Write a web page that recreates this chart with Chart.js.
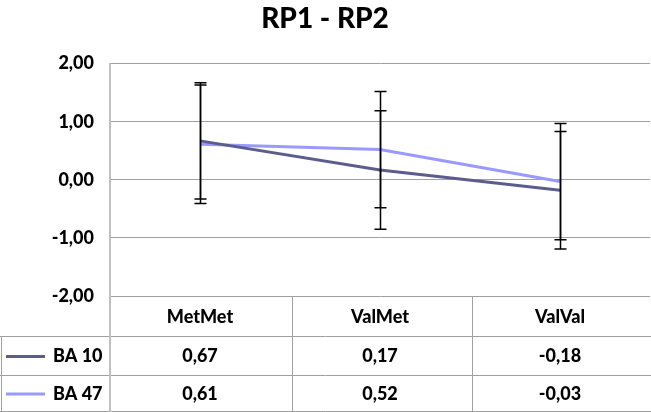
<!DOCTYPE html>
<html><head><meta charset="utf-8">
<script src="https://cdn.jsdelivr.net/npm/chart.js@4.4.0/dist/chart.umd.min.js"></script>
<style>html,body{margin:0;padding:0;background:#fff;}#wrap{width:651px;height:412px;}</style>
</head><body><div id="wrap"><canvas id="c" width="651" height="412"></canvas></div>
<script>
const categories = ["MetMet", "ValMet", "ValVal"];
const seriesNames = ["BA 10", "BA 47"];
const ba10 = [0.67, 0.17, -0.18];
const ba47 = [0.61, 0.52, -0.03];
const ba10Err = [1.00, 1.02, 1.01];
const ba47Err = [1.02, 1.00, 1.00];
const yTicks = [-2, -1, 0, 1, 2];
const colors = ["#5C5C8E", "#9999FF"];

const FONT = "Lato, 'Open Sans', sans-serif";
const WEIGHT = '900';
const fmt = v => v.toFixed(2).replace('.', ',');

const errPlugin = {
  id: 'errbars',
  afterDatasetsDraw(chart) {
    const ctx = chart.ctx, y = chart.scales.y;
    ctx.save();
    ctx.strokeStyle = '#000';
    ctx.lineWidth = 1.5;
    chart.data.datasets.forEach((ds, di) => {
      const meta = chart.getDatasetMeta(di);
      meta.data.forEach((pt, i) => {
        const v = ds.data[i], e = ds.err[i];
        const x = Math.round(pt.x) + 0.5;
        const yt = y.getPixelForValue(v + e), yb = y.getPixelForValue(v - e);
        ctx.beginPath();
        ctx.moveTo(x, yt); ctx.lineTo(x, yb);
        ctx.moveTo(x - 6, yt); ctx.lineTo(x + 6, yt);
        ctx.moveTo(x - 6, yb); ctx.lineTo(x + 6, yb);
        ctx.stroke();
      });
    });
    ctx.restore();
  }
};

const tablePlugin = {
  id: 'datatable',
  afterDraw(chart) {
    const ctx = chart.ctx, xs = chart.scales.x, area = chart.chartArea;
    const W = chart.width;
    const top = area.bottom, r1 = top + 40, r2 = r1 + 39, bot = 411;
    const centers = categories.map((c, i) => xs.getPixelForValue(i));
    const bounds = [area.left];
    for (let i = 0; i < centers.length - 1; i++) bounds.push(Math.round((centers[i] + centers[i + 1]) / 2) + 2);
    ctx.save();
    ctx.strokeStyle = '#A0A0A0';
    ctx.lineWidth = 1;
    ctx.beginPath();
    [r1, r2, bot].forEach(yy => { ctx.moveTo(0, yy + 0.5); ctx.lineTo(W, yy + 0.5); });
    ctx.moveTo(1.5, r1); ctx.lineTo(1.5, bot + 1);
    bounds.slice(1).forEach(bx => { ctx.moveTo(bx + 0.5, top); ctx.lineTo(bx + 0.5, bot + 1); });
    ctx.stroke();
    ctx.strokeStyle = '#BFBFBF';
    ctx.lineWidth = 2;
    ctx.beginPath();
    ctx.moveTo(area.left, area.top); ctx.lineTo(area.left, bot + 1);
    ctx.stroke();

    ctx.fillStyle = '#000';
    ctx.font = WEIGHT + ' 18px ' + FONT;
    ctx.textAlign = 'center';
    ctx.textBaseline = 'middle';
    categories.forEach((c, i) => ctx.fillText(c, centers[i], (top + r1) / 2 + 1));
    const rows = [[r1, r2], [r2, bot]];
    chart.data.datasets.forEach((ds, di) => {
      const cy = (rows[di][0] + rows[di][1]) / 2 + 1;
      ds.data.forEach((v, i) => { ctx.fillText(fmt(v), centers[i], cy); });
      ctx.strokeStyle = colors[di];
      ctx.lineWidth = 3;
      ctx.beginPath(); ctx.moveTo(6, cy); ctx.lineTo(45, cy); ctx.stroke();
      ctx.textAlign = 'left';
      ctx.fillText(ds.label, 53, cy);
      ctx.textAlign = 'center';
    });
    ctx.restore();
  }
};

new Chart(document.getElementById('c'), {
  type: 'line',
  data: {
    labels: categories,
    datasets: [
      { label: seriesNames[0], data: ba10, err: ba10Err, borderColor: colors[0], backgroundColor: colors[0], borderWidth: 3, pointRadius: 0, tension: 0 },
      { label: seriesNames[1], data: ba47, err: ba47Err, borderColor: colors[1], backgroundColor: colors[1], borderWidth: 3, pointRadius: 0, tension: 0 }
    ]
  },
  options: {
    responsive: false,
    animation: false,
    devicePixelRatio: 1,
    layout: { padding: { left: 0, right: 1, top: 0, bottom: 108 } },
    plugins: {
      legend: { display: false },
      tooltip: { enabled: false },
      title: {
        display: true, text: 'RP1 - RP2', color: '#000',
        font: { family: FONT, size: 28, weight: WEIGHT },
        padding: { top: 2, bottom: 28 }
      }
    },
    scales: {
      x: {
        offset: true,
        grid: { display: false },
        border: { display: false },
        ticks: { display: false }
      },
      y: {
        min: -2, max: 2,
        afterBuildTicks: s => { s.ticks = yTicks.map(v => ({ value: v })); },
        afterFit: s => { s.width = 110; },
        ticks: {
          color: '#000', padding: 16,
          font: { family: FONT, size: 18, weight: WEIGHT },
          callback: v => fmt(v)
        },
        grid: { color: '#A0A0A0', lineWidth: 1, drawTicks: false },
        border: { display: true, color: '#BFBFBF', width: 2 }
      }
    }
  },
  plugins: [errPlugin, tablePlugin]
});
</script></body></html>
